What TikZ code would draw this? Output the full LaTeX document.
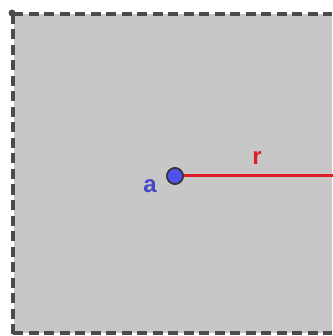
\documentclass[tikz,border=0pt]{standalone}
\usepackage{fontspec}
\setmainfont{Liberation Sans}
\definecolor{bgray}{RGB}{199,199,199}
\definecolor{dgray}{RGB}{75,75,75}
\definecolor{pred}{RGB}{222,30,40}
\definecolor{pblue}{RGB}{80,80,235}
\definecolor{lblue}{RGB}{70,70,200}
\tikzset{
  frame/.style={draw=dgray, line width=3.5pt, dash pattern=on 10pt off 5.5pt},
  ptdot/.style={circle, fill=pblue, draw=black!80, line width=1.6pt, inner sep=0pt, minimum size=16pt},
  lbl/.style={font=\bfseries\fontsize{24}{24}\selectfont, inner sep=0pt}
}
\begin{document}
\begin{tikzpicture}[x=1pt,y=-1pt]
\useasboundingbox (0,0) rectangle (332,336);
\fill[bgray] (14,14) rectangle (332,333);
\draw[frame] (13,14) -- (332,14);
\draw[frame] (13,14) -- (13,336);
\draw[frame] (13,333) -- (332,333);
\fill[dgray] (12,13) circle (3.5pt);
\coordinate (e) at (333,176);
\node[ptdot] (a) at (175,176) {};
\draw[pred, line width=3pt] (a.center) -- (e);
\node[ptdot] at (a) {};
\node[lbl, text=pred] (r) at (257,158) {r};
\node[lbl, text=lblue] (la) at (150,186) {a};
\end{tikzpicture}
\end{document}
